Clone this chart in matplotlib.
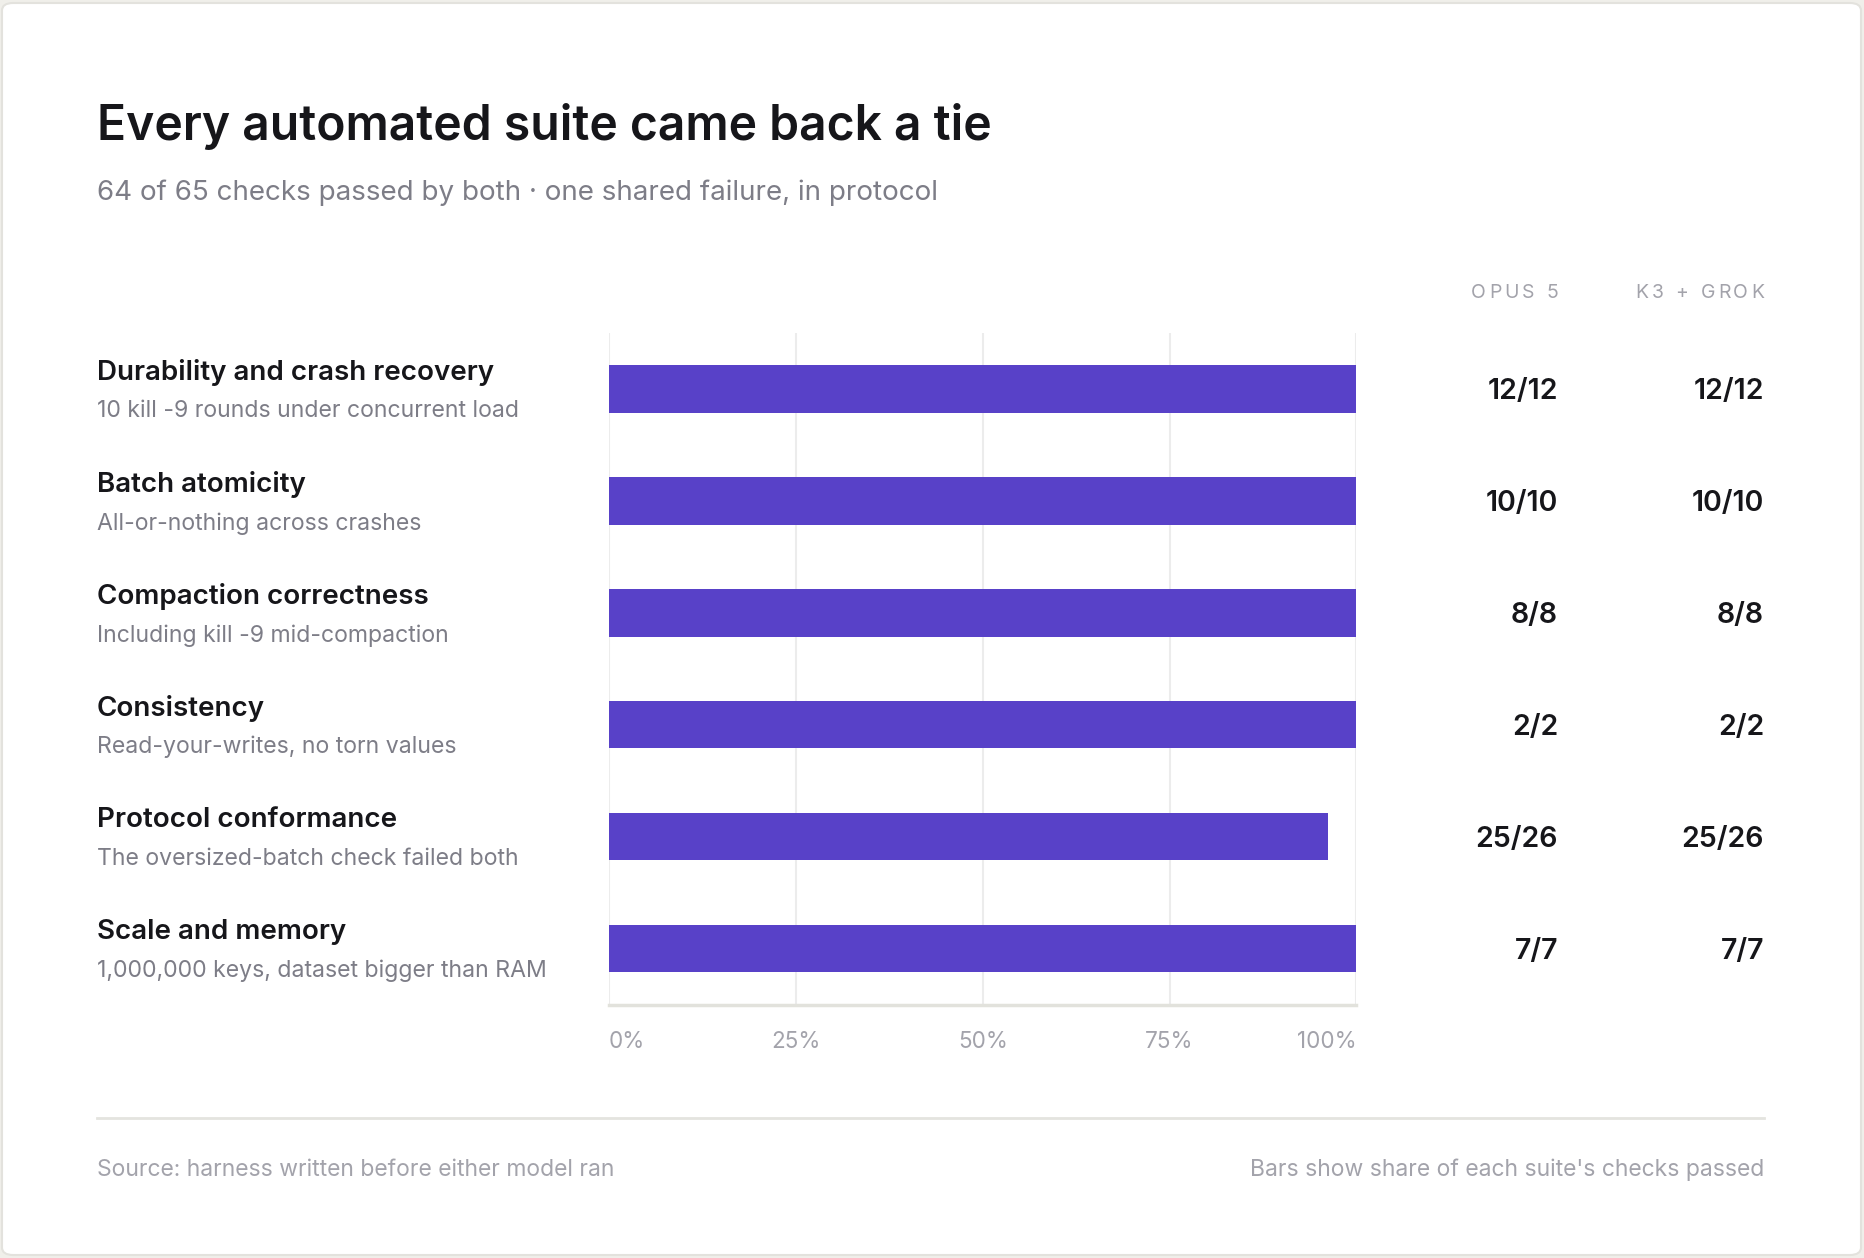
import matplotlib
matplotlib.use("Agg")
import matplotlib.pyplot as plt
from matplotlib import transforms
from matplotlib.patches import FancyBboxPatch

plt.rcParams["font.family"] = ["Inter", "DejaVu Sans"]

# data
suites = ["Durability and crash recovery", "Batch atomicity", "Compaction correctness",
          "Consistency", "Protocol conformance", "Scale and memory"]
notes = ["10 kill -9 rounds under concurrent load", "All-or-nothing across crashes",
         "Including kill -9 mid-compaction", "Read-your-writes, no torn values",
         "The oversized-batch check failed both", "1,000,000 keys, dataset bigger than RAM"]
opus_passed = [12, 10, 8, 2, 25, 7]
k3_passed = [12, 10, 8, 2, 25, 7]
totals = [12, 10, 8, 2, 26, 7]
columns = ["OPUS 5", "K3 + GROK"]
ticks = [0, 25, 50, 75, 100]
tick_labels = ["0%", "25%", "50%", "75%", "100%"]

W, H = 1864, 1258
fig = plt.figure(figsize=(W / 100, H / 100), dpi=100, facecolor="#f0efea")

def fx(x):
    return x / W

def fy(y):
    return 1 - y / H

card = FancyBboxPatch((fx(2), fy(1255)), fx(1859), fy(3) - fy(1255),
                      boxstyle="round,pad=0,rounding_size=0.006", transform=fig.transFigure,
                      facecolor="white", edgecolor="#e3e2dd", linewidth=1.5, zorder=-5)
fig.patches.append(card)

BAR = "#5841c8"
GRAY = "#7d7d87"
LIGHT = "#a3a3ab"
DARK = "#16161a"

fig.text(fx(97), fy(140), "Every automated suite came back a tie", fontsize=34.6,
         fontweight="semibold", color=DARK, va="baseline")
fig.text(fx(97), fy(200), "64 of 65 checks passed by both \u00b7 one shared failure, in protocol",
         fontsize=20, color=GRAY, va="baseline")

ax = fig.add_axes([fx(609), fy(1004.5), fx(1356.4) - fx(609), fy(333) - fy(1004.5)])
ax.set_facecolor("none")
share = [100 * p / t for p, t in zip(opus_passed, totals)]
rows = list(range(len(suites)))
ax.barh(rows, share, height=0.425, color=BAR, zorder=3)
ax.set_xlim(0, 100)
ax.set_ylim(len(suites) - 0.5, -0.5)
for t in ticks:
    ax.axvline(t, color="#ececec", linewidth=1.5, zorder=1)
for s in ["top", "right", "left"]:
    ax.spines[s].set_visible(False)
ax.spines["bottom"].set_color("#e2e2dc")
ax.spines["bottom"].set_linewidth(2.5)
ax.set_yticks([])
ax.set_xticks(ticks)
ax.set_xticklabels(tick_labels, fontsize=16.2, color=LIGHT)
ax.tick_params(axis="x", length=0, pad=19)
labs = ax.get_xticklabels()
labs[0].set_ha("left")
labs[-1].set_ha("right")

# row labels and counts, placed at each bar's y
row_tr = transforms.blended_transform_factory(fig.transFigure, ax.transData)
for i in rows:
    name_tr = transforms.offset_copy(row_tr, fig=fig, x=0, y=16.5, units="dots")
    note_tr = transforms.offset_copy(row_tr, fig=fig, x=0, y=-22.5, units="dots")
    val_tr = transforms.offset_copy(row_tr, fig=fig, x=0, y=-2.5, units="dots")
    fig.text(fx(97), i, suites[i], transform=name_tr, fontsize=20,
             fontweight="semibold", color=DARK, va="center")
    fig.text(fx(97), i, notes[i], transform=note_tr, fontsize=16.6,
             color=GRAY, va="center")
    fig.text(fx(1558), i, f"{opus_passed[i]}/{totals[i]}", transform=val_tr,
             fontsize=20.5, fontweight="semibold", color=DARK, ha="right", va="center")
    fig.text(fx(1764), i, f"{k3_passed[i]}/{totals[i]}", transform=val_tr,
             fontsize=20.5, fontweight="semibold", color=DARK, ha="right", va="center")

# letter-spaced column headers
renderer = fig.canvas.get_renderer()

def spaced_right(xr, y, s, size, color, track):
    widths = []
    for ch in s:
        t = fig.text(0, 0, ch if ch != " " else "n", fontsize=size)
        w = t.get_window_extent(renderer).width
        if ch == " ":
            w *= 0.55
        widths.append(w)
        t.remove()
    gap = track * size * 100 / 72
    total = sum(widths) + gap * (len(s) - 1)
    x = xr - total
    for ch, w in zip(s, widths):
        if ch != " ":
            fig.text(fx(x), fy(y), ch, fontsize=size, color=color, va="baseline")
        x += w + gap

spaced_right(1558, 298, columns[0], 14, LIGHT, 0.15)
spaced_right(1764, 298, columns[1], 14, LIGHT, 0.15)

fig.add_artist(plt.Line2D([fx(97), fx(1764)], [fy(1117.5), fy(1117.5)],
                          transform=fig.transFigure, color="#e4e4df", linewidth=2))
fig.text(fx(97), fy(1176), "Source: harness written before either model ran",
         fontsize=16.5, color=LIGHT, va="baseline")
fig.text(fx(1764), fy(1176), "Bars show share of each suite's checks passed",
         fontsize=16.5, color=LIGHT, va="baseline", ha="right")

fig.savefig("out.png", dpi=100, facecolor=fig.get_facecolor())
